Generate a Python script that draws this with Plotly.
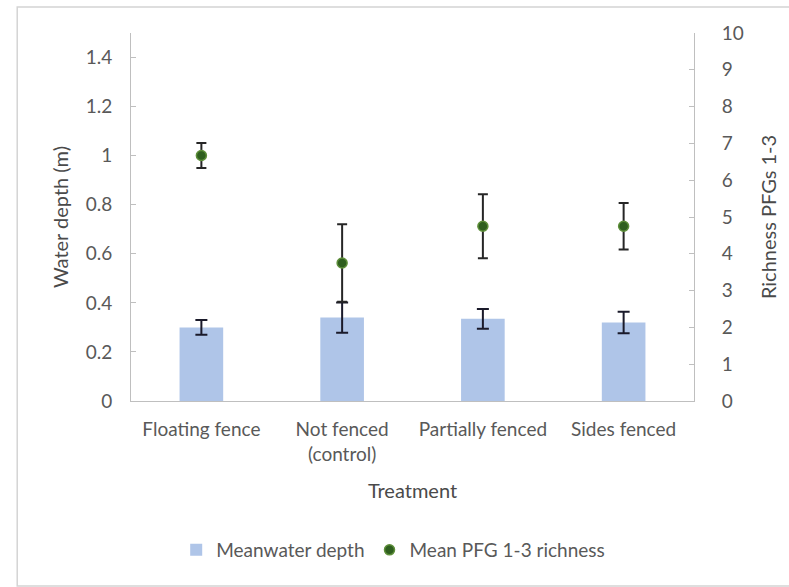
import plotly.graph_objects as go

# Treatments and measured values
treatments = ["Floating fence", "Not fenced<br>(control)", "Partially fenced", "Sides fenced"]
water_depth = [0.30, 0.34, 0.335, 0.32]
water_depth_err = [0.03, 0.062, 0.04, 0.044]
richness = [6.67, 3.75, 4.75, 4.75]
richness_err = [0.34, 1.05, 0.87, 0.63]

left_ticks = [0, 0.2, 0.4, 0.6, 0.8, 1.0, 1.2, 1.4]
left_labels = ["0", "0.2", "0.4", "0.6", "0.8", "1", "1.2", "1.4"]
right_ticks = list(range(0, 11))

FONT = "Lato"
GREY = "#595959"
TITLE = "#4a4a4a"
AXIS = "#BFBFBF"
FS = 19

fig = go.Figure()

fig.add_trace(go.Bar(
    x=treatments, y=water_depth,
    name="Meanwater depth",
    marker=dict(color="#AFC5E8", line=dict(width=0)),
    error_y=dict(type="data", array=water_depth_err, color="#1a1a2a", thickness=2, width=6),
    yaxis="y",
))

fig.add_trace(go.Scatter(
    x=treatments, y=richness,
    name="Mean PFG 1-3 richness",
    mode="markers",
    marker=dict(color="#2F5F1F", size=10, line=dict(color="#5E8F3A", width=1.5)),
    error_y=dict(type="data", array=richness_err, color="#262626", thickness=2, width=5),
    yaxis="y2",
))

L, R, T, B = 131, 89, 33, 186
W, H = 789, 587
pw, ph = W - L - R, H - T - B


def px(x):
    return (x - L) / pw


def py(y):
    return (H - B - y) / ph


fig.update_layout(
    width=W, height=H,
    margin=dict(l=L, r=R, t=T, b=B, pad=0),
    paper_bgcolor="white", plot_bgcolor="white",
    font=dict(family=FONT, size=FS, color=GREY),
    bargap=0.69,
    showlegend=True,
    legend=dict(
        orientation="h", x=px(396), xanchor="center", y=py(550), yanchor="middle",
        font=dict(family=FONT, size=FS, color=GREY),
        itemwidth=30, tracegroupgap=0,
    ),
    xaxis=dict(
        showline=True, linecolor=AXIS, linewidth=1,
        ticks="", showgrid=False,
        tickfont=dict(family=FONT, size=FS, color=GREY),
        ticklabelstandoff=11,
        title=dict(text="Treatment", font=dict(family=FONT, size=20, color=TITLE), standoff=20),
    ),
    yaxis=dict(
        range=[0, 1.5], tickvals=left_ticks, ticktext=left_labels,
        showline=True, linecolor=AXIS, linewidth=1,
        ticks="inside", ticklen=5, tickcolor=AXIS,
        showgrid=False, zeroline=False,
        tickfont=dict(family=FONT, size=FS, color=GREY),
        ticklabelstandoff=14,
        title=dict(text="Water depth (m)", font=dict(family=FONT, size=20, color=TITLE), standoff=11),
    ),
    yaxis2=dict(
        range=[0, 10], tickvals=right_ticks,
        overlaying="y", side="right", anchor="x",
        showline=True, linecolor=AXIS, linewidth=1,
        ticks="inside", ticklen=5, tickcolor=AXIS,
        showgrid=False, zeroline=False,
        tickfont=dict(family=FONT, size=FS, color=GREY),
        ticklabelstandoff=23,
        title=dict(text="Richness PFGs 1-3", font=dict(family=FONT, size=20, color=TITLE), standoff=19),
    ),
    shapes=[
        dict(type="rect", xref="paper", yref="paper",
             x0=px(16), x1=px(800), y0=py(586), y1=py(7),
             line=dict(color="#D4D4D4", width=1.5), fillcolor="rgba(0,0,0,0)", layer="below"),
    ],
)

fig.write_html("out.html")
